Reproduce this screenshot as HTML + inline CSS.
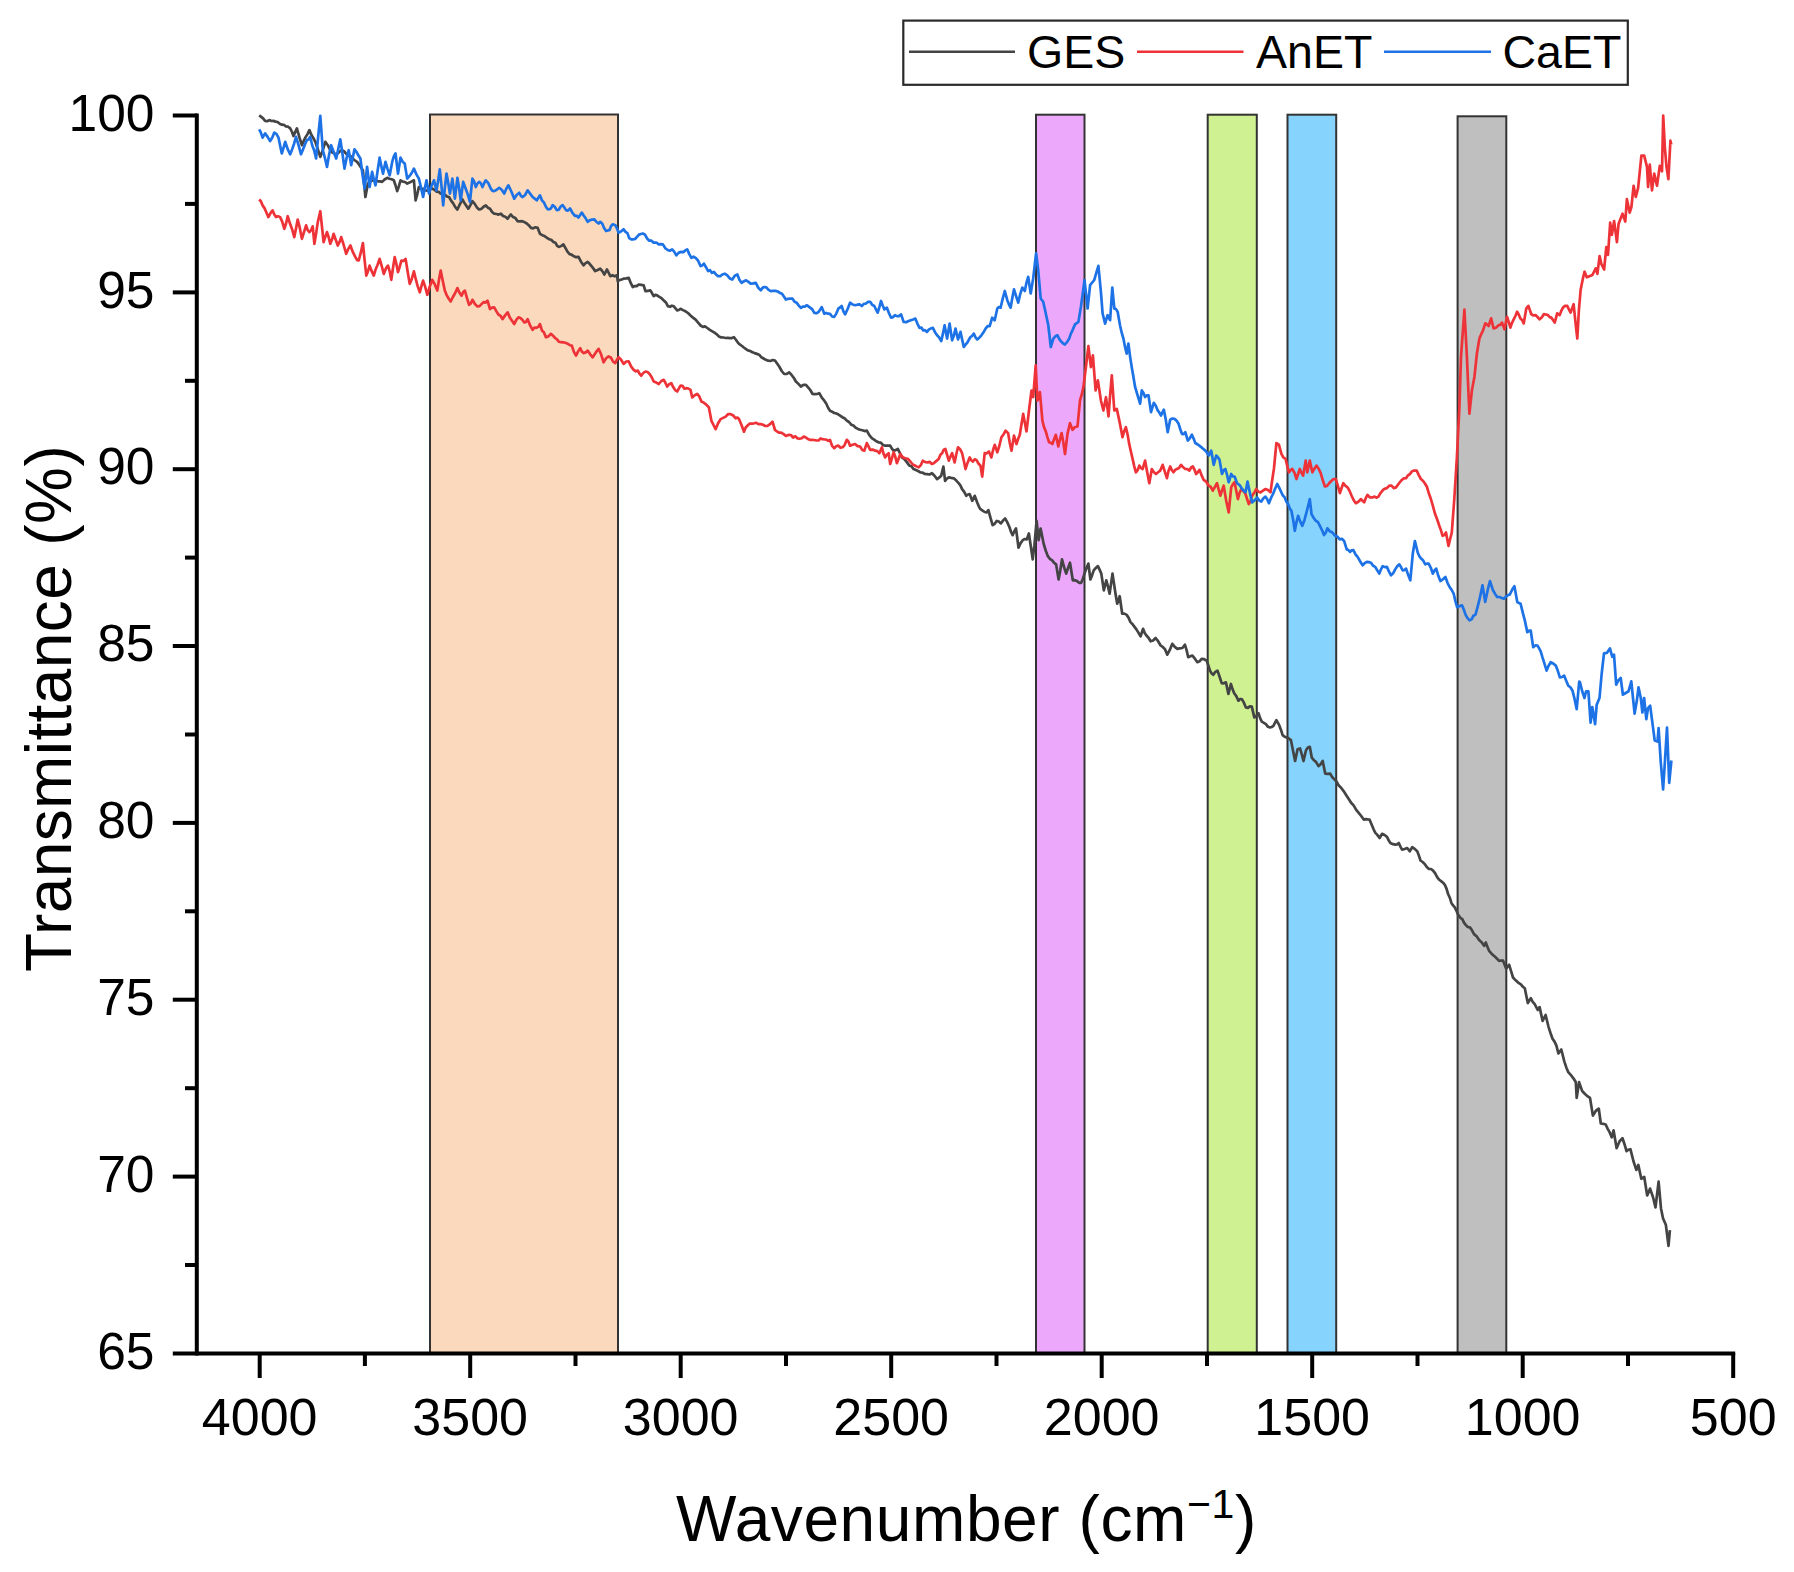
<!DOCTYPE html>
<html lang="en"><head><meta charset="utf-8"><title>FTIR Transmittance</title>
<style>html,body{margin:0;padding:0;background:#fff;}body{width:1794px;height:1572px;overflow:hidden;font-family:"Liberation Sans",Arial,sans-serif;}</style>
</head><body>
<svg width="1794" height="1572" viewBox="0 0 1794 1572" style="display:block">
<rect x="0" y="0" width="1794" height="1572" fill="#fff"/>
<g id="bands" stroke="#333" stroke-width="2">
<rect x="430" y="114.5" width="188.0" height="1238.5" fill="#fad9bd"/>
<rect x="1036" y="114.7" width="48.5" height="1238.3" fill="#eca9fb"/>
<rect x="1207.7" y="114.7" width="49.1" height="1238.3" fill="#cff191"/>
<rect x="1287.5" y="114.7" width="48.7" height="1238.3" fill="#86d3fd"/>
<rect x="1457.6" y="116.3" width="48.7" height="1236.7" fill="#bfbfbf"/>
</g>
<g id="curves" fill="none" stroke-width="2.7" stroke-linejoin="round" stroke-linecap="butt">
<polyline stroke="#444444" points="259.2,115.4 261.2,116.9 263.1,118.4 265.1,120.9 267.2,121.2 269.3,120.1 271.4,121.0 273.4,120.9 275.5,121.6 277.6,122.0 279.7,123.8 281.8,124.7 283.9,124.8 286.0,126.5 288.1,126.7 290.2,128.4 291.8,131.5 293.5,136.0 295.2,132.1 296.9,128.4 299.4,137.4 301.9,145.2 303.8,140.7 305.6,137.1 307.5,134.1 309.4,130.1 311.3,134.8 313.3,138.0 315.3,141.8 317.8,149.1 320.3,156.9 322.8,150.2 325.3,141.8 327.8,145.2 330.3,150.2 332.3,152.5 334.2,153.1 336.2,155.2 338.1,152.9 340.1,151.2 342.0,150.2 344.2,151.5 346.5,154.1 348.7,155.2 350.8,156.3 352.9,158.7 355.0,160.5 357.1,161.9 359.0,164.4 361.0,167.5 362.9,170.2 365.4,197.0 367.9,183.6 369.9,181.7 371.8,180.6 373.8,180.3 375.9,180.2 378.0,181.4 380.1,181.4 382.1,181.9 384.6,179.5 387.2,177.8 389.4,178.7 391.6,179.3 393.8,180.3 395.5,185.3 397.2,191.1 398.9,186.2 400.5,180.3 402.8,181.7 405.0,182.0 407.2,183.6 409.5,182.6 411.7,181.4 413.9,180.3 415.6,200.3 417.3,194.3 418.9,187.0 421.2,188.5 423.4,188.8 425.6,190.3 427.8,190.6 430.1,188.5 432.3,188.6 434.4,189.7 436.5,191.6 438.6,191.8 440.7,193.6 442.8,194.5 444.8,194.5 446.9,196.5 449.0,197.0 451.1,200.6 453.2,203.4 455.3,207.1 457.4,209.5 459.9,204.2 462.4,199.5 464.4,202.9 466.3,205.8 468.3,208.7 470.4,205.1 472.4,201.2 474.7,203.9 476.9,207.4 479.1,209.5 481.4,208.9 483.6,206.7 485.8,205.4 487.9,207.7 490.0,208.7 492.1,212.0 494.2,213.7 496.4,214.0 498.6,214.6 500.9,213.7 503.1,216.0 505.3,216.7 507.6,218.7 509.2,216.4 510.9,214.5 513.1,217.1 515.4,218.1 517.6,221.2 519.8,221.4 522.1,221.2 524.3,222.1 526.5,223.3 528.7,225.2 531.0,227.9 533.2,228.4 535.4,227.3 537.7,227.9 540.0,233.8 542.3,235.2 544.5,236.0 546.7,237.7 549.0,239.2 551.2,239.8 553.4,241.9 555.4,242.7 557.3,246.1 559.3,246.9 561.4,245.9 563.4,244.4 565.5,248.2 567.6,251.9 569.6,254.1 571.5,254.6 573.5,256.1 576.0,257.2 578.5,256.9 581.0,261.7 583.5,265.3 585.6,263.1 587.7,261.9 589.6,263.8 591.5,266.2 593.3,268.4 595.2,271.1 597.7,270.0 600.2,268.6 602.3,271.1 604.4,274.5 606.9,269.5 608.6,272.7 610.3,276.2 612.5,275.2 614.7,276.3 617.0,275.3 617.8,281.2 619.7,280.1 621.7,279.4 623.6,278.7 626.2,278.4 628.7,277.8 630.8,283.2 632.8,287.0 634.8,286.0 636.7,286.1 638.7,284.5 641.2,284.9 643.7,285.4 645.4,291.2 647.9,290.8 650.4,290.4 652.1,293.3 653.7,296.2 655.4,294.9 657.1,295.4 659.3,296.9 661.5,298.2 663.8,300.4 665.9,302.4 668.0,306.3 669.9,306.8 671.9,305.7 673.8,306.3 675.5,308.3 677.2,310.4 678.8,310.0 680.5,308.8 683.0,310.1 685.5,311.3 688.0,313.0 690.5,315.5 693.0,317.6 695.6,319.6 698.1,322.7 700.6,325.5 702.8,326.8 705.0,326.4 707.3,328.0 709.8,329.8 712.3,331.3 714.5,332.6 716.7,334.3 719.0,336.4 721.2,337.4 723.4,337.5 725.7,338.0 727.7,337.9 729.8,338.1 731.9,338.1 734.0,337.2 736.1,340.0 738.2,343.0 740.1,344.7 742.0,346.0 743.8,347.5 745.7,348.9 747.9,350.4 750.2,351.0 752.4,352.2 754.6,353.1 756.9,353.9 759.1,354.7 761.3,357.2 763.6,358.5 765.8,359.8 768.1,360.7 770.4,361.0 772.7,360.0 775.0,360.6 777.1,363.6 779.2,366.5 781.7,371.0 784.2,374.0 786.7,373.8 789.2,372.3 791.4,374.7 793.7,377.8 795.9,381.5 798.4,383.9 800.9,386.5 803.4,384.9 805.9,384.8 808.1,387.4 810.4,390.2 812.6,394.0 814.8,394.1 817.1,394.0 819.3,393.2 821.8,397.7 824.3,400.7 826.2,403.5 828.1,407.8 830.0,410.8 832.1,411.7 834.2,413.0 836.2,413.4 838.1,414.3 840.1,415.6 842.3,417.2 844.5,418.3 846.8,420.6 849.0,422.0 851.2,424.7 853.4,425.6 855.7,427.7 857.9,428.9 860.1,429.8 862.4,430.3 864.6,431.1 866.8,430.6 869.3,435.2 871.8,438.1 874.1,439.6 876.3,441.3 878.5,442.3 880.8,442.6 883.0,445.0 885.2,445.7 887.7,445.6 890.2,445.7 891.9,448.6 893.6,450.7 895.7,450.1 897.8,449.0 899.8,452.8 901.9,457.4 904.4,459.1 907.0,462.4 909.2,465.4 911.4,466.2 913.6,469.1 915.9,470.1 918.1,471.0 920.3,472.4 922.6,472.6 924.8,474.0 927.0,474.1 929.5,474.5 932.0,473.2 934.5,475.7 937.1,479.1 939.1,477.7 941.2,475.8 943.4,466.6 945.1,480.8 946.9,478.7 948.8,477.4 951.3,477.9 953.8,478.3 956.3,480.6 958.8,483.3 960.5,485.6 962.1,489.1 964.2,491.9 966.3,495.8 968.0,494.5 969.7,494.1 972.2,500.8 974.7,495.8 977.2,502.5 978.9,506.6 980.5,509.2 982.6,510.6 984.7,512.0 986.6,512.4 988.4,510.1 990.5,517.9 992.6,525.1 994.7,523.8 996.8,520.9 998.8,521.6 1000.9,523.4 1003.0,520.7 1005.1,518.4 1007.2,522.1 1009.3,526.8 1011.0,531.8 1012.6,535.2 1014.3,531.2 1016.0,528.5 1018.5,547.7 1020.6,543.1 1022.7,540.2 1024.8,539.0 1026.9,539.3 1028.9,533.5 1030.8,546.2 1032.7,559.4 1034.4,545.2 1036.6,520.9 1038.6,540.2 1040.6,528.5 1043.6,543.5 1045.7,550.5 1047.8,556.1 1049.8,558.8 1051.9,560.2 1054.0,562.7 1056.1,564.4 1058.6,579.5 1060.3,570.3 1062.0,559.4 1064.1,567.3 1066.2,573.6 1068.1,567.9 1070.0,562.7 1072.8,580.3 1074.9,580.2 1077.0,581.1 1079.1,582.8 1081.2,582.8 1082.9,578.7 1084.5,573.6 1086.5,567.8 1088.4,563.6 1090.4,579.5 1092.1,575.2 1093.7,570.3 1095.8,568.0 1097.9,566.1 1099.6,569.6 1101.3,573.6 1103.8,590.3 1106.3,580.3 1108.0,586.7 1109.6,593.7 1112.5,573.6 1115.5,593.7 1117.2,603.7 1119.7,596.2 1122.2,613.7 1124.3,613.6 1126.4,614.6 1128.4,617.4 1130.5,622.1 1132.6,624.2 1134.7,627.1 1136.4,629.4 1138.1,632.1 1140.6,636.3 1143.1,628.8 1144.7,633.0 1146.4,635.5 1148.5,637.7 1150.6,641.3 1153.1,640.5 1155.6,638.0 1158.1,641.2 1160.6,645.5 1162.7,646.9 1164.8,648.9 1167.3,654.7 1169.8,649.9 1172.3,643.8 1174.8,646.9 1177.4,648.9 1179.9,648.3 1182.4,648.0 1184.9,644.7 1186.6,650.1 1188.2,657.2 1190.3,656.3 1192.4,655.6 1194.9,658.7 1197.4,662.2 1199.5,661.3 1201.6,658.9 1204.1,659.2 1206.6,660.6 1208.3,665.3 1210.0,670.6 1211.6,673.4 1213.3,674.8 1215.4,671.8 1217.5,670.6 1219.6,676.7 1221.7,683.1 1223.8,683.3 1225.9,682.3 1228.4,694.0 1230.9,684.0 1232.5,689.1 1234.2,693.2 1236.3,696.1 1238.4,700.7 1240.1,699.0 1241.7,699.0 1243.8,702.4 1245.9,707.4 1247.9,707.9 1249.8,706.4 1251.8,706.6 1254.3,717.4 1256.4,715.8 1258.5,713.2 1260.1,718.1 1261.8,721.6 1263.9,722.8 1265.9,724.1 1268.0,726.8 1270.0,727.5 1271.7,727.0 1273.4,725.9 1276.4,720.1 1279.2,725.1 1280.9,729.7 1282.6,735.1 1284.7,736.8 1286.8,737.6 1288.8,738.5 1290.9,740.1 1292.6,748.5 1295.1,761.0 1297.6,749.3 1300.1,748.5 1301.8,754.4 1303.5,761.0 1306.0,750.2 1307.9,747.6 1309.8,746.8 1311.8,757.7 1313.9,760.2 1316.0,761.9 1318.5,766.1 1320.6,764.3 1322.7,761.0 1325.2,773.6 1327.7,773.8 1330.2,773.6 1332.3,777.3 1334.4,779.4 1336.5,781.5 1338.6,785.3 1341.1,787.7 1343.6,791.1 1346.1,794.9 1348.6,798.7 1351.1,802.8 1353.6,805.4 1356.2,809.9 1358.7,812.9 1361.2,816.0 1363.7,819.6 1365.6,819.1 1367.6,819.4 1369.5,819.6 1371.6,824.6 1373.7,829.6 1375.4,832.9 1377.1,834.6 1379.6,838.0 1382.1,833.8 1384.6,834.9 1387.1,837.1 1388.8,840.6 1390.4,843.0 1392.9,844.2 1395.5,844.6 1397.1,844.4 1398.8,843.0 1400.5,846.8 1402.1,849.7 1404.6,849.0 1407.2,848.0 1409.7,851.3 1412.2,847.2 1414.7,848.9 1417.2,851.3 1418.9,855.6 1420.5,860.5 1422.6,862.0 1424.7,863.9 1426.8,866.9 1428.9,868.9 1431.0,869.0 1433.1,870.6 1435.2,873.4 1437.3,877.3 1439.3,879.8 1441.4,881.4 1443.1,882.7 1444.8,884.8 1446.5,888.6 1448.1,894.0 1449.8,897.7 1451.5,903.2 1453.1,905.4 1454.8,907.4 1456.5,910.8 1458.2,914.9 1460.3,917.8 1462.3,919.1 1464.0,922.7 1465.7,924.9 1467.8,927.0 1469.9,927.4 1472.0,930.3 1474.0,934.1 1476.6,936.3 1479.1,940.0 1481.6,942.2 1484.1,945.8 1485.8,942.5 1487.4,946.7 1489.1,950.8 1491.6,953.7 1494.1,955.9 1496.6,958.3 1499.1,960.9 1501.1,960.5 1503.1,960.7 1506.1,968.6 1509.1,964.7 1511.0,970.9 1513.0,977.5 1515.0,979.7 1517.0,981.4 1518.9,983.2 1520.9,984.4 1522.9,986.8 1524.8,988.3 1527.8,1003.1 1530.8,998.2 1532.7,1001.8 1534.7,1004.1 1537.7,1010.0 1539.6,1007.1 1542.6,1020.9 1545.6,1015.0 1548.5,1026.8 1550.5,1033.0 1552.5,1038.7 1554.4,1041.4 1556.4,1045.6 1558.4,1053.5 1561.3,1049.5 1564.3,1061.3 1566.3,1067.4 1568.3,1072.2 1570.7,1074.8 1573.2,1078.1 1575.8,1082.1 1576.7,1097.9 1579.1,1082.1 1582.1,1090.9 1584.5,1093.5 1587.0,1095.9 1590.0,1097.9 1592.9,1115.6 1595.9,1110.7 1598.8,1108.7 1600.8,1123.5 1603.3,1123.8 1605.7,1124.5 1607.7,1128.9 1609.7,1132.4 1611.7,1137.3 1613.6,1130.4 1616.6,1148.2 1619.6,1141.3 1622.5,1138.3 1624.5,1144.2 1626.5,1151.1 1628.4,1149.7 1630.4,1149.2 1633.4,1161.0 1636.3,1169.9 1638.3,1164.9 1641.3,1178.8 1644.2,1176.8 1647.2,1195.5 1650.1,1188.6 1653.1,1197.5 1655.5,1207.4 1658.6,1181.7 1661.0,1208.4 1663.0,1218.2 1665.9,1225.1 1668.5,1245.8 1669.9,1230.1"/>
<polyline stroke="#ee3338" points="259.2,199.5 260.9,201.3 262.6,205.4 264.5,208.1 266.5,212.7 268.4,217.1 270.5,213.1 272.6,210.4 274.3,214.6 276.0,217.1 278.0,216.1 280.1,217.1 282.2,221.6 284.3,228.8 286.0,223.8 287.7,216.2 289.9,223.3 292.1,229.2 294.3,237.1 296.0,228.5 297.7,219.6 299.8,227.9 301.9,238.8 304.0,232.2 306.1,225.4 307.7,230.1 309.4,232.1 311.1,230.2 312.7,226.3 314.4,243.8 316.1,233.5 317.8,222.1 320.3,211.2 321.9,226.0 323.6,242.1 325.3,236.8 327.0,232.1 328.6,237.0 330.3,243.8 332.0,239.6 333.6,233.8 335.7,239.7 337.8,245.5 339.5,242.1 341.2,237.1 343.7,245.0 346.2,253.8 348.3,248.9 350.4,245.5 352.9,252.2 355.4,257.2 357.1,260.2 358.7,260.5 360.8,252.7 362.9,243.0 364.6,260.1 366.3,275.6 367.9,271.5 369.6,265.6 371.7,271.2 373.8,275.6 375.7,269.2 377.7,264.5 379.6,258.9 381.7,266.0 383.8,273.9 385.9,268.4 388.0,265.6 389.7,271.3 391.3,279.8 393.0,267.9 394.7,257.2 396.4,264.0 398.0,272.2 399.7,266.9 401.4,260.5 403.5,261.0 405.6,258.9 407.6,271.3 409.7,283.9 411.8,278.9 413.9,271.4 415.9,279.7 417.8,286.6 419.8,292.3 421.4,286.1 423.1,280.6 425.2,286.9 427.3,294.8 429.8,286.5 432.3,279.8 434.8,284.4 437.3,290.6 439.0,279.8 440.7,270.6 442.8,280.9 444.8,290.6 446.8,295.4 448.8,298.8 450.7,301.5 452.9,297.0 455.2,293.0 457.4,288.1 459.5,292.7 461.6,295.7 463.2,292.0 464.9,290.6 467.0,298.2 469.1,304.8 470.8,303.5 472.4,299.8 474.9,304.0 477.5,306.5 479.5,306.1 481.5,304.1 483.5,302.1 485.5,302.6 487.5,300.7 490.0,309.0 492.1,307.7 494.2,307.4 496.3,311.1 498.4,314.5 500.5,315.8 502.5,319.1 505.1,315.4 507.6,312.4 509.8,317.5 512.0,320.8 514.2,324.1 516.3,319.8 518.4,317.4 520.4,318.0 522.3,319.8 524.3,322.4 526.0,321.9 527.6,319.1 530.1,325.4 532.6,329.9 534.5,327.5 536.3,327.9 538.2,326.9 540.0,324.1 542.0,330.6 543.9,332.2 545.9,337.2 548.4,336.4 550.9,333.8 553.0,335.7 555.1,338.0 557.0,339.4 559.0,341.8 560.9,342.2 563.4,342.3 566.0,343.0 567.9,343.9 569.9,345.2 571.8,345.6 573.9,351.9 576.0,355.6 578.1,351.4 580.2,348.1 581.8,351.5 583.5,353.1 585.6,352.4 587.7,350.6 590.2,354.3 592.7,357.3 594.7,354.2 596.6,351.3 598.6,348.9 601.1,354.3 603.6,362.3 606.1,358.3 608.6,356.4 610.8,357.4 613.1,361.6 615.3,363.1 617.0,359.5 618.6,357.3 621.1,359.7 623.6,363.9 626.2,361.5 628.7,361.4 631.2,366.6 633.7,369.8 635.8,371.3 637.9,370.6 639.5,373.6 641.2,375.7 643.3,373.0 645.4,371.5 647.5,372.0 649.6,374.0 651.7,377.2 653.7,381.5 656.3,382.6 658.8,384.0 661.3,381.0 663.8,379.8 665.5,383.0 667.1,386.5 669.2,384.2 671.3,383.2 673.3,387.3 675.2,390.1 677.2,391.5 678.8,388.7 680.5,385.7 682.5,385.8 684.4,388.7 686.4,388.2 688.4,388.5 690.5,389.9 692.2,397.4 694.7,395.3 697.2,394.0 699.3,396.4 701.4,401.6 703.5,402.5 705.6,404.1 707.3,405.7 708.9,407.4 711.4,420.8 713.5,425.0 715.6,429.2 718.1,423.3 720.6,419.1 723.1,417.9 725.7,416.6 728.2,414.0 730.7,414.1 733.2,415.5 735.7,418.3 737.4,417.6 739.0,419.1 741.5,425.1 744.0,431.7 745.7,427.5 747.4,425.8 749.6,423.6 751.9,423.6 754.1,423.3 756.3,422.8 758.5,424.1 760.8,424.1 763.0,424.8 765.2,426.0 767.5,425.8 770.0,424.2 772.5,421.6 775.0,430.0 776.9,431.4 778.9,432.7 780.8,432.5 783.3,433.9 785.9,435.9 788.4,434.9 790.9,435.0 793.1,437.5 795.3,436.3 797.6,438.4 799.6,438.8 801.7,438.3 803.8,436.5 805.9,437.5 808.0,439.1 810.1,439.9 812.2,439.8 814.3,440.0 816.4,440.5 818.5,440.5 820.6,438.4 822.6,439.2 824.5,439.5 826.3,439.6 828.2,440.8 830.0,440.0 832.1,445.9 834.2,448.2 836.3,446.1 838.4,445.7 840.5,447.8 842.6,447.3 844.7,444.8 846.8,439.8 848.4,441.4 850.1,445.7 852.6,444.7 855.1,444.0 857.6,446.1 860.1,446.5 862.2,449.9 864.3,450.7 866.8,443.1 868.5,446.3 870.2,449.8 872.7,449.6 875.2,450.7 877.3,451.1 879.4,453.2 881.9,447.3 883.5,453.6 885.2,457.4 886.9,454.5 888.6,453.2 890.2,464.0 891.9,458.4 893.6,452.3 895.3,456.8 896.9,463.2 898.6,458.7 900.3,454.0 902.8,457.4 905.3,458.2 907.8,458.8 910.3,461.5 912.8,464.5 915.3,465.7 917.0,466.6 918.7,467.4 920.8,465.1 922.8,460.7 925.4,462.1 927.9,462.4 929.8,461.9 931.8,464.0 933.7,463.2 936.2,461.1 938.7,459.0 940.4,454.8 942.1,453.2 943.7,449.7 945.4,449.0 947.1,454.8 948.8,460.7 950.4,456.8 952.1,453.2 954.6,462.4 956.3,454.3 958.0,447.3 960.1,449.2 962.1,453.2 963.8,460.7 965.5,469.1 967.6,462.7 969.7,457.4 971.3,460.4 973.0,461.5 974.7,459.3 976.4,459.9 978.4,463.5 980.5,465.7 982.2,476.6 984.7,453.2 986.8,453.3 988.9,451.5 991.4,457.4 993.1,450.0 994.7,444.8 997.3,452.3 999.3,446.0 1001.4,437.3 1003.5,434.5 1005.6,430.6 1008.1,433.1 1009.8,443.0 1011.5,450.7 1014.0,435.6 1016.5,444.0 1018.2,438.8 1019.8,434.8 1021.5,424.0 1023.2,413.9 1024.8,422.4 1026.5,431.4 1029.0,410.5 1031.5,390.5 1033.2,397.2 1035.7,365.4 1037.4,400.5 1039.9,392.1 1042.4,420.6 1044.1,427.4 1045.8,431.4 1047.4,437.1 1049.1,442.3 1050.8,442.8 1052.4,444.0 1054.1,439.2 1055.8,434.8 1058.3,446.5 1060.0,439.2 1061.6,433.1 1063.3,442.3 1065.0,454.0 1067.5,433.9 1070.0,423.1 1072.5,429.8 1075.0,427.0 1077.5,426.4 1080.0,400.5 1081.7,394.7 1083.4,387.1 1085.9,367.1 1088.4,346.2 1090.9,367.1 1092.9,355.4 1095.6,390.5 1097.9,380.4 1100.9,400.5 1103.4,410.5 1106.0,397.2 1108.5,416.4 1110.1,395.3 1111.8,375.4 1114.3,410.5 1116.8,408.9 1120.0,423.9 1122.5,437.2 1124.2,431.1 1125.9,427.2 1127.6,434.6 1129.2,443.9 1130.9,451.5 1132.6,458.9 1134.2,466.1 1135.9,472.3 1137.6,470.2 1139.3,465.6 1140.9,467.9 1142.6,469.0 1145.1,460.6 1147.2,472.3 1149.3,483.2 1151.8,469.0 1153.9,472.2 1156.0,474.0 1158.1,472.2 1160.2,470.6 1162.7,464.8 1164.8,471.6 1166.9,478.2 1168.5,471.0 1170.2,466.5 1171.9,470.2 1173.5,472.3 1175.2,469.9 1176.9,469.0 1179.0,468.0 1181.1,464.8 1183.2,467.3 1185.3,469.0 1187.3,469.2 1189.4,470.6 1191.1,467.5 1192.8,466.5 1194.4,469.5 1196.1,474.0 1197.8,472.3 1199.5,469.8 1201.6,475.4 1203.6,479.8 1206.2,481.7 1208.7,485.7 1210.8,487.0 1212.8,490.7 1214.9,487.0 1217.0,483.2 1218.7,489.7 1220.4,495.7 1222.0,490.4 1223.7,485.7 1226.2,500.7 1228.7,512.4 1231.2,487.4 1232.9,484.1 1234.6,482.3 1236.3,491.0 1237.9,499.1 1239.6,492.7 1241.3,489.0 1243.4,491.0 1245.5,494.0 1247.1,499.0 1248.8,504.1 1250.5,501.2 1252.1,495.7 1254.2,492.8 1256.3,489.0 1258.4,491.8 1260.5,492.4 1263.0,490.6 1265.5,489.0 1268.0,490.0 1270.5,492.4 1272.2,480.0 1273.9,469.0 1276.4,443.0 1278.9,444.7 1281.4,453.9 1283.5,457.7 1285.6,458.9 1287.3,466.2 1288.9,472.3 1290.6,470.1 1292.3,469.0 1294.4,472.6 1296.5,479.0 1298.1,474.0 1299.8,469.0 1301.5,472.8 1303.1,475.7 1305.7,460.6 1307.3,472.3 1309.8,460.6 1312.3,472.3 1314.4,468.7 1316.5,465.6 1318.6,468.7 1320.7,473.1 1322.8,480.3 1324.9,486.5 1327.0,486.0 1329.1,483.2 1331.3,481.0 1333.5,479.1 1335.8,479.0 1337.8,485.7 1339.9,493.2 1341.6,488.0 1343.3,483.2 1345.4,485.8 1347.5,487.4 1349.5,490.7 1351.6,495.7 1353.7,500.3 1355.8,503.2 1358.3,501.8 1360.8,499.1 1362.5,500.7 1364.2,502.4 1365.9,497.8 1367.5,494.9 1370.0,497.5 1372.5,497.4 1374.5,496.6 1376.4,497.7 1378.4,496.6 1380.3,493.3 1382.3,490.8 1384.2,489.0 1386.8,488.1 1389.3,485.7 1391.5,485.7 1393.7,488.1 1396.0,487.4 1398.5,484.0 1401.0,480.7 1403.5,478.5 1406.0,478.2 1408.0,475.3 1410.0,474.0 1411.7,471.6 1413.4,470.6 1415.1,470.7 1416.7,470.6 1418.8,475.1 1420.9,479.0 1422.9,480.7 1424.8,483.3 1426.8,486.5 1428.8,493.2 1430.9,499.0 1433.0,506.4 1435.1,514.1 1437.2,519.5 1439.3,525.8 1441.0,530.4 1442.6,535.8 1444.3,535.1 1446.0,532.5 1448.5,545.9 1450.2,538.8 1451.8,532.5 1454.3,499.0 1456.9,457.2 1459.4,407.1 1461.0,356.9 1462.7,333.4 1464.4,309.7 1466.9,356.9 1469.4,413.7 1471.9,390.3 1474.4,377.0 1476.9,353.5 1479.4,338.5 1481.1,334.4 1482.8,331.0 1485.3,323.4 1487.0,324.5 1488.6,326.0 1491.1,318.4 1493.6,328.5 1496.2,327.5 1498.7,325.1 1500.3,324.9 1502.0,322.6 1504.5,329.3 1507.0,316.8 1508.7,321.9 1510.4,327.6 1512.0,322.8 1513.7,319.3 1515.4,316.0 1517.1,311.7 1518.7,314.5 1520.4,318.4 1522.1,319.9 1523.7,323.4 1526.3,308.4 1528.4,305.9 1531.3,314.2 1533.4,315.5 1535.5,315.1 1537.5,317.0 1539.6,319.3 1541.7,317.4 1543.8,314.2 1545.9,314.5 1548.0,315.1 1549.7,317.1 1551.3,317.6 1553.0,320.0 1554.7,322.6 1557.2,313.4 1559.7,315.1 1561.4,310.6 1563.0,307.6 1565.1,305.8 1567.2,305.9 1568.9,309.3 1570.6,312.6 1573.6,304.2 1575.6,323.4 1577.3,338.5 1578.9,310.1 1580.6,290.0 1582.9,278.4 1584.6,271.7 1586.8,277.3 1592.4,275.0 1595.7,268.3 1597.4,273.9 1599.6,256.1 1601.3,263.9 1604.1,269.5 1606.3,247.2 1608.0,255.0 1610.2,222.6 1611.9,234.9 1614.1,221.0 1616.9,242.1 1618.6,223.7 1622.5,213.7 1625.3,221.5 1626.9,199.2 1629.7,212.6 1631.4,207.0 1633.6,185.8 1635.8,197.0 1638.1,188.1 1641.4,155.7 1644.2,155.7 1647.0,166.9 1648.1,187.0 1649.8,164.7 1652.0,190.3 1654.2,173.6 1657.0,185.8 1659.8,165.8 1662.0,171.3 1663.2,115.6 1664.8,146.8 1666.5,166.9 1668.4,179.2 1670.4,140.7 1671.3,144.6"/>
<polyline stroke="#1d72e6" points="259.2,129.3 260.9,132.7 262.6,137.6 265.1,133.4 267.6,136.9 270.1,141.0 272.2,137.8 274.3,132.6 276.4,133.9 278.5,137.6 280.1,145.4 281.8,153.5 283.5,147.8 285.2,141.8 287.7,149.2 290.2,154.3 292.1,149.4 294.1,143.7 296.0,136.8 298.5,144.9 301.0,154.3 303.0,149.4 304.9,144.5 306.9,140.1 308.6,139.5 310.2,136.8 312.2,145.3 314.1,150.3 316.1,158.5 318.2,136.3 320.3,115.9 322.8,150.2 324.9,157.8 327.0,166.9 329.0,155.3 331.1,145.2 333.6,151.8 336.2,158.5 338.2,149.2 340.3,139.3 342.4,153.3 344.5,168.6 346.6,158.0 348.7,150.2 351.2,165.2 352.9,157.0 354.5,149.3 356.5,152.0 358.5,155.6 360.4,158.5 362.5,174.8 364.6,188.6 367.1,166.9 369.6,187.0 372.1,171.9 373.8,179.1 375.5,185.3 377.5,171.5 379.6,157.7 381.3,166.0 383.0,173.6 385.5,161.9 387.6,169.1 389.7,175.3 392.2,161.9 393.8,156.4 395.5,153.5 398.0,173.6 400.5,157.7 402.6,161.7 404.7,163.5 407.2,178.6 409.5,176.0 411.7,173.0 413.9,168.6 416.4,174.4 418.9,178.6 421.0,187.5 423.1,197.0 424.8,188.3 426.5,180.3 429.0,193.6 431.5,185.8 434.0,180.3 436.5,190.3 438.2,180.2 439.8,169.4 441.5,186.1 443.2,205.4 444.8,188.3 446.5,173.6 448.2,182.8 449.9,193.6 452.4,178.6 454.9,198.7 457.4,177.8 459.1,188.1 460.7,200.3 463.2,181.9 465.5,188.2 467.7,194.1 469.9,202.0 472.4,178.6 474.1,181.4 475.8,187.0 477.5,183.5 479.1,181.9 480.8,183.3 482.5,187.0 484.1,183.2 485.8,180.3 488.3,183.1 490.8,188.6 492.5,190.9 494.2,191.1 496.7,189.8 499.2,187.8 501.7,189.7 504.2,193.6 506.3,188.8 508.4,185.3 510.3,189.3 512.3,193.8 514.2,198.7 516.8,194.7 519.3,192.8 520.9,195.9 522.6,197.0 525.1,195.0 527.6,190.3 530.1,193.6 532.6,197.0 534.7,198.6 536.8,200.3 540.0,195.3 542.0,200.5 543.9,202.4 545.9,206.8 547.6,209.1 549.2,209.3 550.9,208.5 552.6,205.1 554.7,206.8 556.8,210.1 558.7,209.7 560.7,206.5 562.6,205.1 564.3,207.6 566.0,210.1 568.0,210.6 570.1,208.4 572.6,213.1 575.2,216.0 576.8,215.8 578.5,217.6 580.2,214.9 581.8,212.6 583.8,215.7 585.7,218.3 587.7,221.8 589.9,220.1 592.2,219.6 594.4,219.3 596.5,222.0 598.6,223.5 600.2,221.8 602.2,223.5 604.1,228.1 606.1,231.0 607.8,230.4 609.4,230.2 611.1,225.9 612.8,224.3 615.3,225.2 617.0,228.4 618.6,232.7 621.1,231.4 623.6,229.3 625.5,231.9 627.4,233.1 629.3,238.2 631.2,239.4 633.1,239.3 635.1,239.0 637.0,236.9 639.0,234.6 640.9,234.0 642.9,233.5 645.0,234.7 647.1,238.5 649.3,240.7 651.5,240.7 653.7,242.7 656.3,242.5 658.8,244.4 660.9,244.2 662.9,244.4 665.5,248.5 668.0,250.2 670.1,250.7 672.1,249.4 674.2,251.6 676.3,255.3 678.8,252.6 681.3,251.9 683.3,252.2 685.2,250.4 687.2,249.4 689.3,254.1 691.4,257.8 693.5,256.6 695.6,257.8 698.1,260.7 700.6,266.1 702.2,265.4 703.9,263.6 706.0,267.2 708.1,271.1 710.0,270.2 712.0,272.9 713.9,272.0 716.0,274.4 718.1,276.2 720.2,276.2 722.3,274.5 724.8,273.7 727.3,275.3 729.8,278.4 732.3,279.5 734.8,275.8 737.4,274.5 739.4,279.7 741.5,282.8 743.6,281.5 745.7,280.3 748.2,281.6 750.7,283.7 753.2,283.4 755.8,282.8 758.3,287.8 760.8,290.4 762.4,288.0 764.1,287.0 766.3,287.4 768.6,289.9 770.8,291.2 773.1,290.9 775.4,290.9 777.7,291.5 780.0,292.9 782.0,293.8 783.9,296.5 785.9,299.6 788.1,298.8 790.3,298.5 792.5,298.7 794.6,301.8 796.7,302.7 798.8,305.6 800.9,307.9 802.8,306.6 804.7,306.7 806.5,305.3 808.4,306.3 810.4,307.8 812.3,309.4 814.3,312.9 816.4,313.2 818.5,312.1 820.1,309.7 821.8,307.1 824.3,313.8 826.2,312.9 828.1,313.7 830.0,313.8 832.1,316.5 834.2,316.9 836.3,313.6 838.4,308.5 840.1,307.5 841.7,306.0 843.4,311.3 845.1,314.4 847.6,309.0 850.1,302.7 852.6,304.5 855.1,305.2 857.3,304.7 859.6,304.4 861.8,306.0 863.9,303.9 866.0,303.5 868.1,301.8 870.2,301.8 872.3,304.9 874.3,306.0 876.0,309.5 877.7,312.7 879.4,307.2 881.0,301.0 882.7,305.5 884.4,309.4 886.9,307.7 889.0,313.2 891.1,317.7 893.0,317.1 895.0,315.2 896.9,316.1 899.0,316.1 901.1,314.4 903.6,321.9 906.1,322.2 908.6,321.1 910.9,320.2 913.1,319.5 915.3,318.6 917.4,323.6 919.5,327.8 921.4,327.6 923.3,330.5 925.1,330.2 927.0,331.9 929.0,329.4 930.9,328.5 932.9,327.8 935.0,332.2 937.1,335.3 939.1,337.4 941.2,341.1 942.9,333.9 944.6,325.3 947.1,338.6 949.6,323.6 952.1,340.3 953.8,335.8 955.5,328.6 958.0,339.5 960.5,331.9 962.1,339.4 963.8,347.0 965.5,344.6 967.2,342.8 968.8,339.8 970.5,337.0 972.2,335.8 973.8,333.6 975.5,337.3 977.2,339.5 979.3,337.7 981.4,335.3 983.5,332.3 985.6,328.6 987.6,326.2 989.7,326.1 992.2,317.7 994.7,320.2 997.3,308.5 998.9,307.1 1000.6,307.7 1002.7,298.6 1004.8,291.0 1007.3,300.2 1009.0,304.6 1010.6,307.7 1012.3,297.9 1014.0,289.3 1016.1,296.2 1018.2,302.7 1020.3,293.8 1022.3,287.6 1024.8,291.0 1026.5,282.6 1028.2,276.8 1030.7,293.5 1033.2,278.4 1036.1,253.3 1038.2,270.1 1040.7,298.5 1043.2,301.8 1045.8,313.5 1048.3,325.3 1050.8,347.0 1053.3,338.6 1055.4,336.3 1057.5,335.3 1059.1,338.7 1060.8,341.1 1062.9,343.3 1065.0,344.5 1067.1,342.0 1069.2,338.6 1070.8,333.9 1072.5,330.3 1075.0,324.4 1076.7,323.2 1078.4,321.9 1080.9,306.9 1082.5,295.2 1084.5,280.1 1087.6,308.5 1090.1,285.1 1092.2,282.5 1094.2,280.1 1096.3,272.9 1098.4,265.9 1100.9,291.8 1102.6,313.5 1105.1,323.6 1107.6,315.2 1110.1,320.2 1112.3,287.6 1114.3,308.5 1116.0,309.1 1117.7,311.9 1120.0,325.3 1121.7,332.7 1123.4,338.5 1125.1,347.2 1126.7,353.6 1128.4,343.5 1130.1,356.6 1131.7,367.0 1133.4,376.8 1135.1,387.0 1137.6,395.4 1140.1,403.7 1141.8,390.4 1143.4,392.7 1145.1,397.1 1146.8,395.4 1148.5,395.4 1151.0,412.1 1153.8,402.9 1155.7,405.5 1157.7,410.4 1159.3,412.5 1161.0,415.5 1163.8,409.6 1165.8,419.7 1167.7,432.2 1170.2,419.6 1172.3,418.5 1174.4,418.8 1176.5,420.6 1178.6,423.8 1180.2,429.0 1181.9,433.8 1183.6,434.1 1185.3,432.2 1187.8,440.5 1189.8,438.3 1191.9,434.7 1193.6,438.6 1195.3,443.0 1197.8,444.5 1200.3,446.4 1202.8,448.5 1205.3,450.6 1207.0,452.7 1208.7,455.6 1211.2,450.6 1213.7,464.8 1216.2,455.6 1217.9,457.2 1219.5,459.8 1222.0,474.0 1223.7,470.2 1225.4,469.0 1227.1,475.0 1228.7,482.3 1231.2,474.0 1232.9,476.5 1234.6,476.5 1237.1,483.2 1239.6,485.1 1242.1,489.0 1243.8,490.7 1245.5,492.4 1247.5,481.5 1250.5,495.7 1252.1,502.4 1254.6,500.3 1257.2,497.4 1259.2,500.5 1261.3,501.6 1263.4,498.3 1265.5,496.6 1267.2,499.3 1268.9,503.2 1271.0,497.9 1273.0,494.0 1275.1,488.7 1277.2,484.0 1278.9,487.2 1280.6,490.7 1282.7,495.3 1284.7,497.4 1286.4,501.7 1288.1,504.1 1289.8,508.5 1291.4,510.8 1293.1,519.5 1294.8,530.8 1296.5,522.0 1298.1,515.8 1300.2,521.4 1302.3,525.8 1304.4,520.2 1306.5,512.4 1308.2,505.7 1309.8,499.1 1311.5,514.1 1313.6,517.7 1315.7,520.8 1317.8,521.9 1319.9,525.8 1322.0,530.1 1324.0,535.0 1325.7,532.9 1327.4,528.3 1329.9,531.3 1332.4,532.5 1334.9,535.6 1337.4,536.7 1339.7,539.4 1341.9,538.8 1344.1,540.9 1346.7,549.4 1348.4,550.1 1350.1,551.9 1351.7,550.3 1353.4,550.2 1355.5,554.3 1357.6,556.9 1360.1,561.2 1362.6,565.3 1364.7,563.2 1366.8,561.9 1368.9,562.1 1371.0,562.7 1373.1,565.8 1375.2,566.9 1377.2,570.3 1379.3,573.6 1381.0,569.3 1382.7,566.1 1384.8,567.1 1386.9,566.9 1388.9,571.4 1391.0,575.3 1393.1,573.3 1395.2,569.4 1397.3,566.1 1399.4,564.4 1401.1,567.3 1402.7,570.3 1404.4,570.1 1406.1,568.6 1408.2,575.1 1410.3,580.3 1412.8,553.5 1414.9,541.0 1417.8,552.7 1419.5,556.5 1421.1,558.6 1423.2,560.6 1425.3,564.4 1427.0,563.6 1428.7,563.6 1430.8,567.8 1432.8,573.6 1434.5,570.5 1436.2,568.6 1438.3,575.8 1440.4,581.1 1442.9,579.2 1445.4,577.0 1447.5,582.8 1449.6,587.0 1451.7,590.1 1453.7,593.7 1455.4,601.1 1457.1,607.1 1459.6,606.1 1462.1,605.4 1463.8,609.5 1465.5,614.6 1467.5,618.1 1469.6,620.4 1471.6,619.4 1473.5,615.7 1475.5,614.6 1477.6,606.8 1479.7,598.7 1482.5,585.3 1485.2,602.0 1488.0,588.7 1490.0,581.1 1493.0,590.3 1495.1,593.9 1497.2,597.0 1499.5,597.0 1501.7,597.9 1503.9,598.7 1505.9,596.6 1507.8,595.3 1509.8,594.5 1512.1,589.8 1514.4,586.2 1517.3,602.0 1519.0,603.1 1520.6,603.7 1522.7,612.4 1524.8,620.4 1527.3,632.1 1529.0,630.7 1530.7,630.5 1533.2,647.2 1535.3,645.4 1537.4,645.5 1539.0,648.1 1540.7,651.4 1542.4,657.2 1544.0,662.2 1546.6,670.6 1548.6,665.8 1550.7,662.2 1553.2,663.5 1555.8,665.6 1557.8,670.8 1559.9,677.3 1562.0,677.0 1564.1,675.6 1566.2,680.7 1568.3,685.7 1570.4,687.3 1572.5,690.7 1574.6,699.1 1576.7,709.1 1579.2,681.5 1580.0,682.4 1582.2,691.3 1584.5,698.0 1586.1,691.3 1588.4,691.3 1590.6,722.6 1592.3,707.0 1595.1,724.2 1596.7,704.7 1599.5,698.0 1601.7,673.5 1604.0,653.4 1606.8,652.9 1609.9,648.4 1612.3,656.8 1614.0,654.6 1616.2,684.7 1618.5,680.2 1620.7,678.0 1622.9,694.7 1625.7,693.0 1628.5,691.3 1631.3,681.3 1633.0,698.0 1634.6,713.6 1636.9,700.3 1638.5,687.4 1640.8,698.0 1642.4,712.5 1644.1,698.0 1646.3,719.2 1648.0,708.1 1650.2,705.8 1652.5,723.7 1654.7,740.4 1657.5,741.5 1658.6,728.1 1660.8,762.7 1663.1,789.5 1664.7,764.9 1667.0,727.6 1669.2,782.8 1671.4,760.5"/>
</g>
<g id="axes" stroke="#000" stroke-width="4" fill="none" stroke-linecap="butt">
<line x1="196.8" y1="113.5" x2="196.8" y2="1355.6"/>
<line x1="172.8" y1="1353.6" x2="1735.2" y2="1353.6"/>
<line x1="172.8" y1="115.5" x2="197" y2="115.5"/>
<line x1="185" y1="203.9" x2="197" y2="203.9"/>
<line x1="172.8" y1="292.4" x2="197" y2="292.4"/>
<line x1="185" y1="380.8" x2="197" y2="380.8"/>
<line x1="172.8" y1="469.2" x2="197" y2="469.2"/>
<line x1="185" y1="557.6" x2="197" y2="557.6"/>
<line x1="172.8" y1="646.0" x2="197" y2="646.0"/>
<line x1="185" y1="734.5" x2="197" y2="734.5"/>
<line x1="172.8" y1="822.9" x2="197" y2="822.9"/>
<line x1="185" y1="911.3" x2="197" y2="911.3"/>
<line x1="172.8" y1="999.7" x2="197" y2="999.7"/>
<line x1="185" y1="1088.2" x2="197" y2="1088.2"/>
<line x1="172.8" y1="1176.6" x2="197" y2="1176.6"/>
<line x1="185" y1="1265.0" x2="197" y2="1265.0"/>
<line x1="259.7" y1="1353" x2="259.7" y2="1378"/>
<line x1="364.9" y1="1353" x2="364.9" y2="1366"/>
<line x1="470.2" y1="1353" x2="470.2" y2="1378"/>
<line x1="575.5" y1="1353" x2="575.5" y2="1366"/>
<line x1="680.7" y1="1353" x2="680.7" y2="1378"/>
<line x1="786.0" y1="1353" x2="786.0" y2="1366"/>
<line x1="891.2" y1="1353" x2="891.2" y2="1378"/>
<line x1="996.5" y1="1353" x2="996.5" y2="1366"/>
<line x1="1101.7" y1="1353" x2="1101.7" y2="1378"/>
<line x1="1207.0" y1="1353" x2="1207.0" y2="1366"/>
<line x1="1312.2" y1="1353" x2="1312.2" y2="1378"/>
<line x1="1417.5" y1="1353" x2="1417.5" y2="1366"/>
<line x1="1522.7" y1="1353" x2="1522.7" y2="1378"/>
<line x1="1628.0" y1="1353" x2="1628.0" y2="1366"/>
<line x1="1733.2" y1="1353" x2="1733.2" y2="1378"/>
</g>
<g id="ticklabels" font-family="'Liberation Sans', Arial, sans-serif" font-size="52" fill="#000">
<text x="154.5" y="130.7" text-anchor="end" font-size="51.5">100</text>
<text x="154.5" y="307.6" text-anchor="end" font-size="51.5">95</text>
<text x="154.5" y="484.4" text-anchor="end" font-size="51.5">90</text>
<text x="154.5" y="661.2" text-anchor="end" font-size="51.5">85</text>
<text x="154.5" y="838.1" text-anchor="end" font-size="51.5">80</text>
<text x="154.5" y="1014.9" text-anchor="end" font-size="51.5">75</text>
<text x="154.5" y="1191.8" text-anchor="end" font-size="51.5">70</text>
<text x="154.5" y="1368.6" text-anchor="end" font-size="51.5">65</text>
<text x="259.7" y="1435.3" text-anchor="middle">4000</text>
<text x="470.2" y="1435.3" text-anchor="middle">3500</text>
<text x="680.7" y="1435.3" text-anchor="middle">3000</text>
<text x="891.2" y="1435.3" text-anchor="middle">2500</text>
<text x="1101.7" y="1435.3" text-anchor="middle">2000</text>
<text x="1312.2" y="1435.3" text-anchor="middle">1500</text>
<text x="1522.7" y="1435.3" text-anchor="middle">1000</text>
<text x="1733.2" y="1435.3" text-anchor="middle">500</text>
</g>
<g id="titles" font-family="'Liberation Sans', Arial, sans-serif" fill="#000">
<text transform="translate(70.5 708.5) rotate(-90)" font-size="64" letter-spacing="0.4" text-anchor="middle">Transmittance (%)</text>
<text x="676" y="1540.5" font-size="64" letter-spacing="0.6">Wavenumber (cm<tspan font-size="41" dy="-23">−1</tspan><tspan dy="23">)</tspan></text>
</g>
<g id="legend" font-family="'Liberation Sans', Arial, sans-serif" font-size="46.5" fill="#000">
<rect x="903.3" y="20.6" width="724.5" height="64.2" fill="#fff" stroke="#2a2a2a" stroke-width="2.2"/>
<line x1="909" y1="51.7" x2="1015" y2="51.7" stroke="#444" stroke-width="2.6"/>
<text x="1027" y="68.3">GES</text>
<line x1="1137" y1="51.7" x2="1243.5" y2="51.7" stroke="#ee3338" stroke-width="2.6"/>
<text x="1256" y="68.3">AnET</text>
<line x1="1384" y1="51.7" x2="1491" y2="51.7" stroke="#1e72e6" stroke-width="2.6"/>
<text x="1502.5" y="68.3">CaET</text>
</g>
</svg>
</body></html>
